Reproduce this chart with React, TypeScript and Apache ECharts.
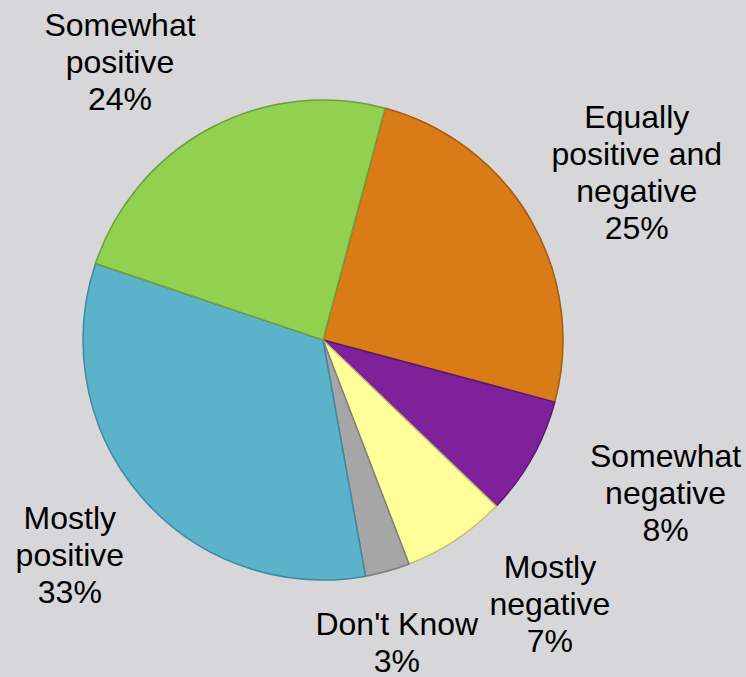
import React, { useEffect, useRef } from "react";
import * as echarts from "echarts";

const categories = [
  "Equally positive and negative",
  "Somewhat negative",
  "Mostly negative",
  "Don't Know",
  "Mostly positive",
  "Somewhat positive",
];
const labelNames = [
  "Equally\npositive and\nnegative",
  "Somewhat\nnegative",
  "Mostly\nnegative",
  "Don't Know",
  "Mostly\npositive",
  "Somewhat\npositive",
];
const values = [25, 8, 7, 3, 33, 24];
const fillColors = ["#D97B16", "#80219C", "#FFFF99", "#A6A6A6", "#5AB2CB", "#92D050"];
const edgeColors = ["#A35C10", "#5C1672", "#C2C270", "#7E7E7E", "#3F8AA0", "#6F9E3C"];

// layout (pixels)
const CX = 323;
const CY = 340;
const R = 240;
const FIRST_EDGE_DEG = 15; // clockwise from 12 o'clock
const LABEL_DIST = 345;
const labelNudge: [number, number][] = [
  [15, 5],
  [42, -16],
  [36, -23],
  [-19, -30],
  [8, -10],
  [-40, 26],
];

export default function App() {
  const ref = useRef<HTMLDivElement>(null);
  useEffect(() => {
    if (!ref.current) return;
    const chart = echarts.init(ref.current, undefined, { renderer: "svg" });
    const total = values.reduce((a, b) => a + b, 0);
    const mids: number[] = [];
    let acc = 0;
    values.forEach((v) => {
      mids.push(FIRST_EDGE_DEG + ((acc + v / 2) / total) * 360);
      acc += v;
    });
    chart.setOption({
      animation: false,
      backgroundColor: "#D7D7D9",
      series: [
        {
          type: "pie",
          center: [CX, CY],
          radius: R,
          startAngle: 90 - FIRST_EDGE_DEG,
          clockwise: true,
          avoidLabelOverlap: false,
          silent: true,
          data: categories.map((name, i) => ({
            name,
            value: values[i],
            itemStyle: {
              color: fillColors[i],
              borderColor: edgeColors[i],
              borderWidth: 1.5,
            },
          })),
          label: {
            show: true,
            position: "outside",
            formatter: (p: any) => `${labelNames[p.dataIndex]}\n${p.value}%`,
            color: "#000",
            fontFamily: "Liberation Sans, Arial, Helvetica, sans-serif",
            fontSize: 32,
            lineHeight: 37,
            align: "center",
          },
          labelLine: { show: false },
          labelLayout: (params: any) => {
            const i = params.dataIndex;
            const a = (mids[i] * Math.PI) / 180;
            const x = CX + LABEL_DIST * Math.sin(a) + labelNudge[i][0];
            const y = CY - LABEL_DIST * Math.cos(a) + labelNudge[i][1];
            return { x, y, align: "center", verticalAlign: "middle" };
          },
        },
      ],
    });
    return () => chart.dispose();
  }, []);
  return (
    <div
      ref={ref}
      style={{ position: "fixed", left: 0, top: 0, width: 746, height: 677 }}
    />
  );
}
